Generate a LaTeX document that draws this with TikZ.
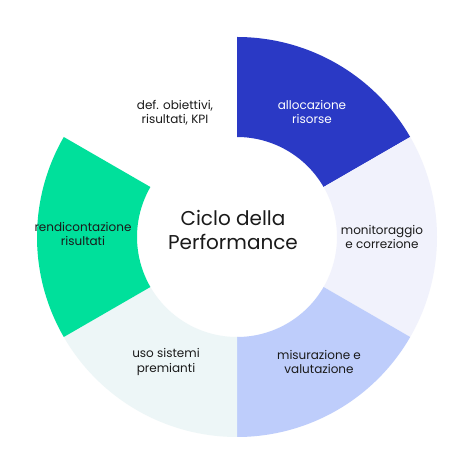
\documentclass[tikz,border=0pt]{standalone}
\usepackage{fontspec}
\setmainfont{Poppins}
\definecolor{cdark}{HTML}{2A39C5}
\definecolor{clav}{HTML}{F1F2FC}
\definecolor{clblue}{HTML}{BECDFB}
\definecolor{cpale}{HTML}{EDF6F7}
\definecolor{cgreen}{HTML}{00E09B}
\definecolor{ctext}{HTML}{1A1A1A}
\begin{document}
\begin{tikzpicture}[x=1pt,y=1pt,
  lbl/.style={align=center,font=\fontsize{12}{14.5}\selectfont,text=ctext,inner sep=0pt},
  ttl/.style={align=center,font=\fontsize{20}{24}\selectfont,text=ctext,inner sep=0pt}]
\useasboundingbox[fill=white] (0,0) rectangle (474,474);
\begin{scope}[shift={(237,237)}]
\fill[cdark]  (90:200) arc[start angle=90,end angle=30,radius=200] -- (30:100) arc[start angle=30,end angle=90,radius=100] -- cycle;
\fill[clav]   (30:200) arc[start angle=30,end angle=-30,radius=200] -- (-30:100) arc[start angle=-30,end angle=30,radius=100] -- cycle;
\fill[clblue] (-30:200) arc[start angle=-30,end angle=-90,radius=200] -- (-90:100) arc[start angle=-90,end angle=-30,radius=100] -- cycle;
\fill[cpale]  (-90:200) arc[start angle=-90,end angle=-150,radius=200] -- (-150:100) arc[start angle=-150,end angle=-90,radius=100] -- cycle;
\fill[cgreen] (-150:200) arc[start angle=-150,end angle=-210,radius=200] -- (150:100) arc[start angle=150,end angle=210,radius=100] -- cycle;
\end{scope}
\node[ttl] (title) at (233,244) {Ciclo della\\Performance};
\node[lbl] (def) at (175,361) {def. obiettivi,\\risultati, KPI};
\node[lbl,text=white] (alloc) at (312,362) {allocazione\\risorse};
\node[lbl] (monit) at (382,237) {monitoraggio\\e correzione};
\node[lbl] (misur) at (319,112) {misurazione e\\valutazione};
\node[lbl] (uso) at (166,112) {uso sistemi\\premianti};
\node[lbl] (rend) at (83,240) {rendicontazione\\risultati};
\end{tikzpicture}
\end{document}
